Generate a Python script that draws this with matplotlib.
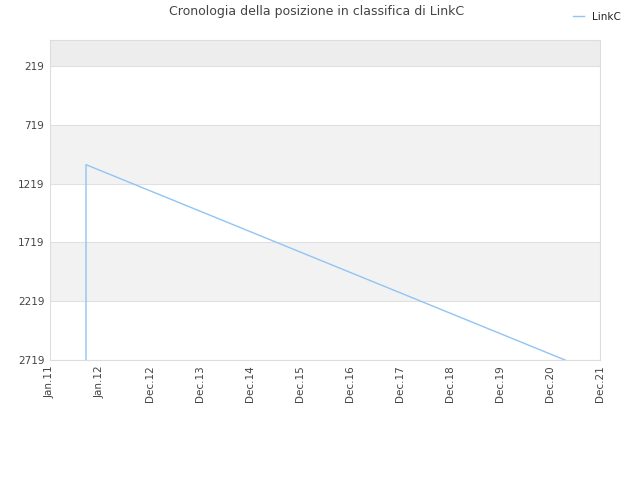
import matplotlib
matplotlib.use("Agg")
import matplotlib.pyplot as plt

# x positions are in "tick units" (one unit per tick label)
tick_labels = ["Jan.11", "Jan.12", "Dec.12", "Dec.13", "Dec.14", "Dec.15",
               "Dec.16", "Dec.17", "Dec.18", "Dec.19", "Dec.20", "Dec.21"]
y_ticks = [219, 719, 1219, 1719, 2219, 2719]

rank_x = [0.72, 0.72, 10.3]
rank_y = [2719, 1058, 2719]

fig = plt.figure(figsize=(6.4, 4.8), dpi=100)
ax = fig.add_axes([50 / 640, 120 / 480, 550 / 640, 320 / 480])

ax.set_xlim(0, len(tick_labels) - 1)
ax.set_ylim(2719, -2)

# alternating background bands
ax.axhspan(-2, 219, color="#ededed", zorder=0, lw=0)
ax.axhspan(719, 1219, color="#f2f2f2", zorder=0, lw=0)
ax.axhspan(1719, 2219, color="#f2f2f2", zorder=0, lw=0)
for yv in y_ticks:
    ax.axhline(yv, color="#e0e0e0", linewidth=0.8, zorder=1)

ax.plot(rank_x, rank_y, color="#90c4f5", linewidth=1.0, label="LinkC", zorder=3)

ax.set_yticks(y_ticks)
ax.set_yticklabels([str(v) for v in y_ticks])
ax.set_xticks(range(len(tick_labels)))
ax.set_xticklabels(tick_labels, rotation=90)
ax.tick_params(axis="both", labelsize=7.5, colors="#444444", length=0, pad=4)

for s in ax.spines.values():
    s.set_color("#dddddd")
    s.set_linewidth(0.8)

fig.text(0.495, 0.975, "Cronologia della posizione in classifica di LinkC",
         ha="center", va="center", fontsize=9, color="#444444")

leg = fig.legend(loc="upper right", bbox_to_anchor=(0.985, 0.995), frameon=False,
                 fontsize=7.5, handlelength=1.0, handletextpad=0.8)
for t in leg.get_texts():
    t.set_color("#222222")

fig.savefig("out.png", dpi=100)
